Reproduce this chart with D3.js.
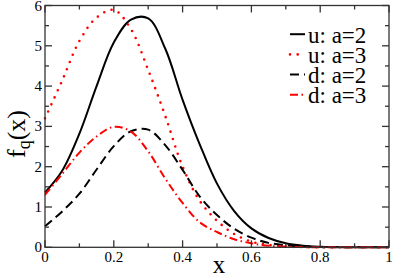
<!DOCTYPE html>
<html><head>
<script src="https://cdn.jsdelivr.net/npm/d3@7/dist/d3.min.js"></script>
</head><body style="margin:0;background:#fff;font-family:'Liberation Serif',serif"><svg id="c" width="394" height="277" style="display:block;font-family:'Liberation Serif',serif"></svg>
<script>
const xs    = [0,0.05,0.1,0.15,0.2,0.25,0.3,0.35,0.4,0.45,0.5,0.55,0.6,0.65,0.7,0.75,0.8,0.85,0.9,0.95,1.0];
const uA2   = [1.36,1.9,2.82,4.0,5.08,5.65,5.68,4.92,3.66,2.55,1.58,0.9,0.47,0.23,0.1,0.04,0.015,0.005,0,0,0];
const uA3   = [3.2,4.14,5.12,5.7,5.89,5.41,4.4,3.25,2.0,1.15,0.66,0.33,0.14,0.06,0.02,0.005,0,0,0,0,0];
const dA2   = [0.52,0.89,1.33,1.93,2.51,2.88,2.92,2.53,1.92,1.26,0.8,0.46,0.24,0.11,0.05,0.02,0.005,0,0,0,0];
const dA3   = [1.3,1.82,2.35,2.75,2.99,2.87,2.38,1.7,1.1,0.62,0.38,0.2,0.1,0.04,0.015,0.005,0,0,0,0,0];
const labels = ["u: a=2","u: a=3","d: a=2","d: a=3"];
const xTicks = [0,0.2,0.4,0.6,0.8,1];
const yTicks = [0,1,2,3,4,5,6];

const styles = [
  {color:"#000", dash:null, width:2, cap:"butt"},
  {color:"#ff0000", dash:"0,7.7", width:2.6, cap:"round"},
  {color:"#000", dash:"9,5", width:2, cap:"butt"},
  {color:"#ff0000", dash:"8,3.5,1.5,3.5", width:2, cap:"butt"}
];
const series = [uA2,uA3,dA2,dA3];

const svg = d3.select("#c");
const L=45, R=389, T=5.5, B=247.3;
const x = d3.scaleLinear().domain([0,1]).range([L,R]);
const y = d3.scaleLinear().domain([0,6]).range([B,T]);

function txt(sel){ return sel.style("font-family",'"Liberation Serif"').attr("font-family","Liberation Serif"); }

const g = svg.append("g");
const line = d3.line().x((d,i)=>x(xs[i])).y(d=>y(d)).curve(d3.curveCatmullRom.alpha(0.5));
series.forEach((s,k)=>{
  const st=styles[k];
  g.append("path").attr("d",line(s)).attr("fill","none").attr("stroke",st.color)
   .attr("stroke-width",st.width).attr("stroke-dasharray",st.dash).attr("stroke-linecap",st.cap);
});

// frame & ticks
const ax = svg.append("g").attr("stroke","#333").attr("stroke-width",1.3).attr("fill","none");
ax.append("rect").attr("x",L).attr("y",T).attr("width",R-L).attr("height",B-T);
d3.range(0,1.0001,0.1).forEach(v=>{
  const major = Math.abs(v*5-Math.round(v*5))<1e-6;
  const len = major?7:4;
  ax.append("line").attr("x1",x(v)).attr("x2",x(v)).attr("y1",B).attr("y2",B-len);
  ax.append("line").attr("x1",x(v)).attr("x2",x(v)).attr("y1",T).attr("y2",T+len);
});
d3.range(0,6.0001,0.5).forEach(v=>{
  const major = Math.abs(v-Math.round(v))<1e-6;
  const len = major?7:4;
  ax.append("line").attr("y1",y(v)).attr("y2",y(v)).attr("x1",L).attr("x2",L+len);
  ax.append("line").attr("y1",y(v)).attr("y2",y(v)).attr("x1",R).attr("x2",R-len);
});

// tick labels
txt(svg.append("g").selectAll("text").data(xTicks).join("text")
  .attr("x",d=>x(d)).attr("y",262).attr("text-anchor","middle").attr("font-size",15))
  .text(d=>String(d));
txt(svg.append("g").selectAll("text").data(yTicks).join("text")
  .attr("x",42).attr("y",d=>y(d)+5).attr("text-anchor","end").attr("font-size",15))
  .text(d=>String(d));

// axis titles
txt(svg.append("text").attr("x",219).attr("y",273).attr("text-anchor","middle").attr("font-size",25)).text("x");
const yt = txt(svg.append("text").attr("transform","translate(25,134) rotate(-90)").attr("text-anchor","middle")
  .attr("font-size",26));
yt.append("tspan").text("f");
yt.append("tspan").attr("font-size",18).attr("dy",5).text("q");
yt.append("tspan").attr("dy",-5).text("(x)");

// legend
labels.forEach((lab,k)=>{
  const st=styles[k];
  const by = 42.7 + k*20.2;
  const ly = by - 8.5;
  svg.append("line").attr("x1",290).attr("x2",305).attr("y1",ly).attr("y2",ly)
    .attr("stroke",st.color).attr("stroke-width",st.width)
    .attr("stroke-dasharray",st.dash).attr("stroke-linecap",st.cap);
  txt(svg.append("text").attr("x",308).attr("y",by).attr("font-size",23)).text(lab);
});
</script></body></html>
